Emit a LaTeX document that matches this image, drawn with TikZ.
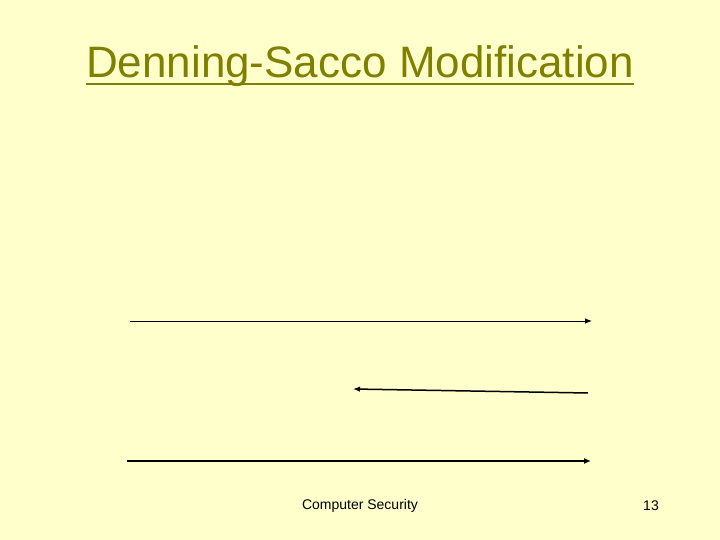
\documentclass[tikz,border=0pt]{standalone}
\usepackage{fontspec}
\setmainfont{Liberation Sans}
\usetikzlibrary{arrows.meta}
\definecolor{slidebg}{HTML}{FFFFCC}
\definecolor{titleolive}{HTML}{808000}

\begin{document}
\begin{tikzpicture}[x=1pt, y=-1pt]
  \fill[slidebg] (0,0) rectangle (720,540);
  \useasboundingbox (0,0) rectangle (720,540);

  % Title
  \node[titleolive, inner sep=0, anchor=base, font=\fontsize{44}{50}\selectfont] (title) at (360,78) {Denning-Sacco Modification};
  \draw[titleolive, line width=2.6pt] ([yshift=-6pt]title.base west) -- ([yshift=-6pt]title.base east);

  % Messages
  \coordinate (m1start) at (130,321);
  \coordinate (m1end) at (592,321);
  \coordinate (m2start) at (588,393);
  \coordinate (m2end) at (353,389);
  \coordinate (m3start) at (127,461);
  \coordinate (m3end) at (591,461);
  \draw[-{Latex[length=7pt,width=5.5pt]}, line width=0.9pt] (m1start) -- (m1end);
  \draw[-{Latex[length=7pt,width=5.5pt]}, line width=1.5pt] (m2start) -- (m2end);
  \draw[-{Latex[length=7pt,width=6pt]}, line width=2pt] (m3start) -- (m3end);

  % Footer
  \node[font=\fontsize{14}{16}\selectfont] (footer) at (360,506) {Computer Security};
  \node[font=\fontsize{14}{16}\selectfont] (pagenum) at (651,506) {13};
\end{tikzpicture}
\end{document}
